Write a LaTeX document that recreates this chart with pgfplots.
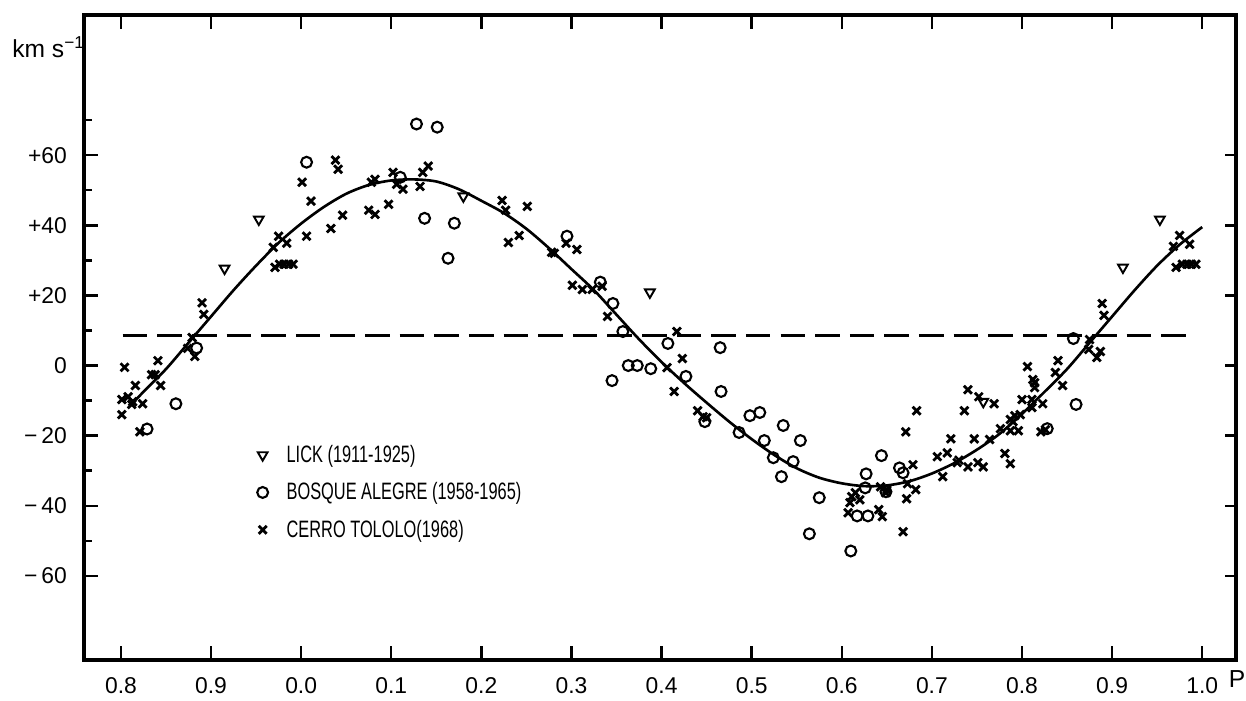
\documentclass[border=0pt]{standalone}
\usepackage{pgfplots}
\pgfplotsset{compat=1.18}
\usepackage{fontspec}
\setmainfont{Liberation Sans}

% phase runs 0.8 ... 2.0 here; labels wrap back to 0.0 after 0.9
\pgfplotstableread{
x v
0.915 27.7
0.953 41.7
1.180 48.3
1.387 20.9
1.757 -10.3
1.912 28.0
1.953 41.7
}\lick

\pgfplotstableread{
x v
0.829 -18.1
0.861 -10.9
0.884 5.0
1.006 58.0
1.110 53.7
1.128 68.9
1.151 68.0
1.137 42.0
1.170 40.6
1.163 30.6
1.295 36.9
1.332 23.8
1.346 17.7
1.357 9.7
1.345 -4.3
1.363 0.0
1.373 0.0
1.388 -0.9
1.407 6.3
1.427 -3.1
1.465 5.1
1.466 -7.4
1.448 -16.0
1.486 -19.1
1.498 -14.3
1.509 -13.4
1.514 -21.4
1.535 -17.1
1.554 -21.4
1.524 -26.3
1.546 -27.4
1.533 -31.7
1.575 -37.7
1.564 -48.0
1.610 -52.9
1.617 -42.9
1.629 -42.9
1.626 -34.9
1.627 -30.9
1.644 -25.7
1.664 -29.2
1.668 -30.6
1.649 -36.0
1.828 -18.0
1.857 7.7
1.860 -11.1
}\bosque

\pgfplotstableread{
x v
0.801 -9.7
0.801 -14.0
0.804 -0.5
0.808 -8.9
0.812 -11.1
0.813 -10.3
0.816 -5.7
0.821 -18.9
0.824 -10.9
0.834 -2.6
0.838 -2.6
0.841 1.4
0.844 -5.7
0.874 4.9
0.879 8.0
0.882 2.6
0.890 17.9
0.892 14.6
0.969 33.7
0.971 28.0
0.975 36.9
0.976 28.9
0.981 28.9
0.984 34.9
0.986 28.9
0.991 28.9
1.001 52.3
1.006 36.9
1.011 46.9
1.033 39.1
1.038 58.6
1.041 56.0
1.046 42.9
1.075 44.3
1.078 52.3
1.082 53.1
1.082 43.1
1.097 46.0
1.102 55.1
1.106 51.7
1.113 50.3
1.132 51.1
1.135 55.1
1.141 56.9
1.223 47.1
1.227 44.3
1.230 35.1
1.242 37.1
1.251 45.4
1.278 32.3
1.281 32.0
1.294 34.9
1.301 22.9
1.306 33.1
1.312 21.7
1.323 21.7
1.334 22.6
1.340 14.0
1.406 -0.6
1.414 -7.4
1.417 9.7
1.423 2.0
1.440 -12.9
1.446 -14.6
1.450 -14.9
1.607 -42.0
1.609 -39.1
1.611 -37.4
1.615 -36.3
1.620 -38.3
1.641 -41.1
1.643 -34.6
1.645 -43.1
1.649 -36.3
1.650 -35.5
1.668 -47.4
1.671 -18.9
1.672 -38.0
1.673 -33.7
1.679 -28.3
1.682 -35.4
1.683 -12.9
1.706 -26.0
1.712 -31.7
1.717 -24.9
1.721 -20.9
1.728 -27.7
1.730 -27.0
1.736 -12.9
1.740 -6.9
1.740 -28.9
1.747 -20.9
1.751 -27.7
1.752 -8.9
1.757 -28.9
1.764 -21.1
1.769 -10.9
1.776 -18.0
1.781 -25.1
1.787 -18.6
1.787 -15.4
1.787 -28.0
1.790 -16.0
1.792 -14.3
1.796 -18.6
1.798 -14.0
1.800 -9.7
1.806 -0.3
1.811 -9.7
1.811 -12.0
1.812 -4.0
1.814 -4.9
1.814 -6.3
1.821 -18.9
1.823 -10.9
1.826 -18.3
1.837 -2.0
1.840 1.4
1.845 -5.7
1.874 4.6
1.875 7.4
1.883 2.3
1.887 4.0
1.889 17.7
1.891 14.3
1.968 34.0
1.971 28.0
1.975 37.1
1.978 28.9
1.983 28.9
1.986 34.6
1.988 28.9
1.993 28.9
}\tololo

% fitted velocity curve
\pgfplotstableread{
x v
0.810 -11.5
0.825 -7.5
0.850 -1.0
0.875 6.5
0.900 14.0
0.925 21.5
0.950 28.5
0.975 35.0
1.000 40.5
1.025 45.2
1.050 49.0
1.075 51.5
1.100 52.8
1.125 53.1
1.150 52.5
1.175 50.3
1.200 47.0
1.225 43.5
1.250 39.0
1.275 33.5
1.300 27.5
1.325 21.5
1.350 14.5
1.375 7.5
1.400 1.0
1.425 -5.0
1.450 -10.6
1.475 -16.0
1.500 -21.0
1.525 -25.5
1.550 -29.3
1.575 -32.0
1.600 -33.6
1.625 -34.4
1.650 -34.2
1.675 -33.0
1.700 -30.8
1.725 -27.8
1.750 -24.0
1.775 -19.5
1.800 -13.8
1.825 -7.5
1.850 -1.0
1.875 6.5
1.900 14.0
1.925 21.5
1.950 28.5
1.975 34.5
2.000 39.5
}\curve

\newcommand\legtext[1]{\hspace{0.3cm}\scalebox{0.69}[1]{#1}}

\begin{document}
\begin{tikzpicture}
\begin{axis}[
  scale only axis,
  width=23.04cm, height=12.9cm,
  xmin=0.759, xmax=2.0375,
  ymin=-84, ymax=100,
  axis line style={line width=1.9pt},
  tick style={line width=1.4pt, black},
  tick align=inside,
  major tick length=0.28cm,
  minor tick length=0.16cm,
  xtick={0.8,0.9,1.0,1.1,1.2,1.3,1.4,1.5,1.6,1.7,1.8,1.9,2.0},
  xticklabels={0.8,0.9,0.0,0.1,0.2,0.3,0.4,0.5,0.6,0.7,0.8,0.9,1.0},
  xtick pos=both,
  ytick={-60,-40,-20,0,20,40,60},
  yticklabels={−\,60,−\,40,−\,20,0,+20,+40,+60},
  minor ytick={-50,-30,-10,10,30,50,70},
  ytick pos=left,
  ticklabel style={font=\fontsize{13}{15}\selectfont},
  xticklabel style={yshift=-0.22cm},
  yticklabel style={xshift=-0.22cm},
  legend style={at={(axis cs:0.945,-20.6)}, anchor=north west, draw=none, fill=none,
    font=\fontsize{13.5}{15}\selectfont, row sep=6pt},
  legend cell align=left,
  clip=false,
]
\addplot[only marks, mark=triangle, mark size=3.2pt, mark options={rotate=180, line width=1.1pt}] table {\lick};
\addlegendentry{\legtext{LICK (1911-1925)}}
\addplot[only marks, mark=o, mark size=3.1pt, mark options={line width=1.2pt}] table {\bosque};
\addlegendentry{\legtext{BOSQUE ALEGRE (1958-1965)}}
\addplot[only marks, mark=x, mark size=3.2pt, mark options={line width=1.6pt}] table {\tololo};
\addlegendentry{\legtext{CERRO TOLOLO(1968)}}
\addplot[forget plot, smooth, line width=1.5pt] table {\curve};
\addplot[forget plot, line width=1.4pt, dash pattern=on 14pt off 5.7pt] coordinates {(0.802,8.6) (1.987,8.6)};
\coordinate (sw) at (rel axis cs:0,0);
\coordinate (ne) at (rel axis cs:1,1);
\node[anchor=west, inner sep=0pt, font=\fontsize{14}{16}\selectfont] at ([xshift=-1.44cm, yshift=-0.64cm]rel axis cs:0,1) {km s\textsuperscript{−1}};
\node[anchor=west, inner sep=0pt, font=\fontsize{14}{16}\selectfont] at ([xshift=-0.15cm, yshift=-0.38cm]rel axis cs:1,0) {P};
\end{axis}
\begin{axis}[
  scale only axis,
  width=23.04cm, height=12.9cm,
  xmin=0.759, xmax=2.0375,
  ymin=-84, ymax=100,
  axis x line=none,
  axis y line*=right,
  axis line style={line width=1.9pt, -},
  tick style={line width=1.4pt, black},
  tick align=inside,
  major tick length=0.22cm,
  ytick={-60,-40,-20,0,20,40,60},
  yticklabels={},
]
\end{axis}
\pgfresetboundingbox
\path[use as bounding box] ([shift={(-1.68cm,-0.8cm)}]sw) rectangle ([shift={(0.2cm,0.3cm)}]ne);
\end{tikzpicture}
\end{document}
